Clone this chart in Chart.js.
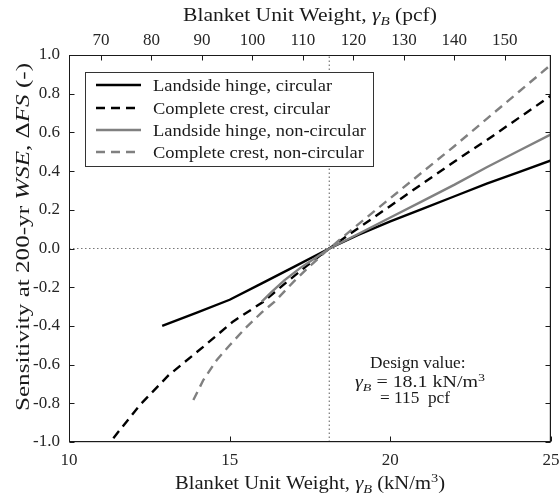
<!DOCTYPE html>
<html>
<head>
<meta charset="utf-8">
<script src="https://cdn.jsdelivr.net/npm/chart.js@4"></script>
<style>
  html, body { margin: 0; padding: 0; background: #fff; overflow: hidden; }
  #wrap { width: 560px; height: 498px; }
</style>
</head>
<body>
<div id="wrap"><canvas id="chart" width="560" height="498"></canvas></div>
<script>
// x = blanket unit weight (kN/m3), y = sensitivity dFS
const lhCircX = [12.9, 14, 15, 16, 17, 18.1, 19, 20, 21, 22, 23, 24, 25];
const lhCircY = [-0.40, -0.33, -0.265, -0.18, -0.095, 0, 0.07, 0.14, 0.205, 0.27, 0.335, 0.395, 0.455];

const ccCircX = [11.38, 12.2, 13.1, 14.2, 15.1, 16.05, 16.8, 17.4, 18.1, 19, 20, 21, 22, 23, 24, 25];
const ccCircY = [-0.98, -0.81, -0.655, -0.505, -0.378, -0.275, -0.17, -0.09, 0, 0.105, 0.22, 0.335, 0.45, 0.56, 0.675, 0.79];

const lhNonX = [16.0, 16.3, 16.7, 17.2, 17.7, 18.1, 19, 20, 21, 22, 23, 24, 25];
const lhNonY = [-0.275, -0.225, -0.165, -0.1, -0.045, 0, 0.075, 0.16, 0.245, 0.33, 0.42, 0.505, 0.59];

const ccNonX = [13.87, 14.18, 14.6, 15.0, 15.5, 16.0, 16.4, 17.0, 17.5, 18.1, 19, 20, 21, 22, 23, 24, 25];
const ccNonY = [-0.783, -0.68, -0.576, -0.5, -0.41, -0.33, -0.275, -0.17, -0.09, 0, 0.125, 0.26, 0.395, 0.53, 0.67, 0.81, 0.95];

const seriesNames = ['Landside hinge, circular', 'Complete crest, circular', 'Landside hinge, non-circular', 'Complete crest, non-circular'];

const xTicks = [10, 15, 20, 25];
const yTicks = [-1, -0.8, -0.6, -0.4, -0.2, 0, 0.2, 0.4, 0.6, 0.8, 1];
const pcfTicks = [70, 80, 90, 100, 110, 120, 130, 140, 150];
const PCF_PER_KN = 6.3658;   // 1 kN/m3 = 6.3658 pcf

const designX = 18.1;   // design value, kN/m3
const zeroY = 0;

const SERIF = "'Liberation Serif', 'Times New Roman', serif";
const BLACK = '#000000';
const GRAY = '#808080';

function pts(xs, ys) { return xs.map((x, i) => ({ x: x, y: ys[i] })); }

// fixed axis sizes, and no extra label padding pushed into the layout
function fixSize(w, h) {
    return s => {
        if (w != null) s.width = w;
        if (h != null) s.height = h;
        s.paddingLeft = 0; s.paddingRight = 0; s.paddingTop = 0; s.paddingBottom = 0;
    };
}

// draw text made of pieces (normal / italic / sub / sup), stretched a bit to look like CM
function richWidth(ctx, segs, size) {
    let w = 0;
    segs.forEach(s => {
        const sz = (s.sub || s.sup) ? size * 0.7 : size;
        ctx.font = (s.it ? 'italic ' : '') + sz + 'px ' + SERIF;
        w += ctx.measureText(s.t).width;
    });
    return w;
}
function drawRich(ctx, segs, x, y, size, opts) {
    opts = opts || {};
    const w = richWidth(ctx, segs, size);
    const k = opts.width ? opts.width / w : (opts.k || 1);
    ctx.save();
    ctx.translate(x, y);
    if (opts.rot) ctx.rotate(opts.rot);
    ctx.scale(k, 1);
    let cx = opts.align === 'left' ? 0 : -w / 2;
    ctx.fillStyle = opts.color || '#1a1a1a';
    ctx.textBaseline = 'alphabetic';
    segs.forEach(s => {
        const sz = (s.sub || s.sup) ? size * 0.7 : size;
        ctx.font = (s.it ? 'italic ' : '') + sz + 'px ' + SERIF;
        let dy = 0;
        if (s.sub) dy = size * 0.22;
        if (s.sup) dy = -size * 0.38;
        ctx.fillText(s.t, cx, dy);
        cx += ctx.measureText(s.t).width;
    });
    ctx.restore();
}

const decorPlugin = {
    id: 'decor',
    afterDraw(chart) {
        const ctx = chart.ctx;
        const a = chart.chartArea;
        const sx = chart.scales.x, sy = chart.scales.y, st = chart.scales.x2;
        const TL = 5;
        const L = Math.round(a.left) + 0.5, R = Math.round(a.right) - 0.5;
        const T = Math.round(a.top) + 0.5, B = Math.round(a.bottom) - 0.5;

        // frame (filled 1px strips, crisp) + inward tick marks on all four sides
        ctx.save();
        ctx.fillStyle = '#1a1a1a';
        ctx.fillRect(L - 0.5, T - 0.5, R - L + 1, 1);
        ctx.fillRect(L - 0.5, B - 0.5, R - L + 1, 1.2);
        ctx.fillRect(L - 0.5, T - 0.5, 1, B - T + 1);
        ctx.fillRect(R - 0.7, T - 0.5, 1.2, B - T + 1);
        ctx.strokeStyle = '#1a1a1a';
        ctx.lineWidth = 1;
        ctx.beginPath();
        yTicks.forEach(v => {
            const p = Math.round(sy.getPixelForValue(v)) + 0.5;
            ctx.moveTo(L, p); ctx.lineTo(L + TL, p);
            ctx.moveTo(R, p); ctx.lineTo(R - TL, p);
        });
        xTicks.forEach(v => {
            const p = Math.round(sx.getPixelForValue(v)) + 0.5;
            ctx.moveTo(p, B); ctx.lineTo(p, B - TL);
        });
        pcfTicks.forEach(v => {
            const p = Math.round(st.getPixelForValue(v)) + 0.5;
            ctx.moveTo(p, T); ctx.lineTo(p, T + TL);
        });
        ctx.stroke();
        ctx.restore();

        // legend box
        const lx = 85, ly = 72, lw = 288, lh = 94;
        ctx.save();
        ctx.fillStyle = '#fff';
        ctx.fillRect(lx, ly, lw, lh);
        ctx.strokeStyle = '#333';
        ctx.lineWidth = 1;
        ctx.strokeRect(lx + 0.5, ly + 0.5, lw, lh);
        const rows = [85, 108, 130, 152];
        const styles = [[BLACK, []], [BLACK, [9, 6]], [GRAY, []], [GRAY, [9, 6]]];
        ctx.font = '17px ' + SERIF;
        const kLeg = 213 / ctx.measureText(seriesNames[2]).width;
        rows.forEach((ry, i) => {
            ctx.strokeStyle = styles[i][0];
            ctx.setLineDash(styles[i][1]);
            ctx.lineWidth = 2.5;
            ctx.beginPath();
            ctx.moveTo(96, ry); ctx.lineTo(141, ry);
            ctx.stroke();
            ctx.setLineDash([]);
            drawRich(ctx, [{ t: seriesNames[i] }], 153, ry + 5.5, 17, { align: 'left', k: kLeg });
        });
        ctx.restore();

        // axis titles
        const midX = (a.left + a.right) / 2;
        drawRich(ctx, [{ t: 'Blanket Unit Weight, ' }, { t: 'γ', it: true }, { t: 'B', it: true, sub: true }, { t: ' (pcf)' }],
            midX, 21, 18, { width: 254 });
        drawRich(ctx, [{ t: 'Blanket Unit Weight, ' }, { t: 'γ', it: true }, { t: 'B', it: true, sub: true }, { t: ' (kN/m' }, { t: '3', sup: true }, { t: ')' }],
            midX, 489, 18, { width: 270 });
        drawRich(ctx, [{ t: 'Sensitivity at 200-yr ' }, { t: 'WSE', it: true }, { t: ', Δ' }, { t: 'FS', it: true }, { t: ' (-)' }],
            29, 237, 18, { width: 348, rot: -Math.PI / 2 });

        // design value note
        drawRich(ctx, [{ t: 'Design value:' }], 370, 368, 16, { align: 'left', k: 1.08 });
        drawRich(ctx, [{ t: 'γ', it: true }, { t: 'B', it: true, sub: true }, { t: ' = 18.1 kN/m' }, { t: '3', sup: true }],
            355, 387, 16, { align: 'left', width: 130 });
        drawRich(ctx, [{ t: '= 115  pcf' }], 380, 403, 16, { align: 'left', k: 1.08 });
    }
};

const tickFont = { family: SERIF, size: 17 };
const tickColor = '#262626';

new Chart(document.getElementById('chart'), {
    type: 'scatter',
    data: {
        datasets: [
            { label: 'zero', data: [{ x: 10, y: zeroY }, { x: 25, y: zeroY }], borderColor: '#777', borderWidth: 1.2, borderDash: [1.5, 2.5] },
            { label: 'design', data: [{ x: designX, y: -1 }, { x: designX, y: 1 }], borderColor: '#777', borderWidth: 1.2, borderDash: [1.5, 2.5] },
            { label: seriesNames[3], data: pts(ccNonX, ccNonY), borderColor: GRAY, borderDash: [9, 6] },
            { label: seriesNames[2], data: pts(lhNonX, lhNonY), borderColor: GRAY },
            { label: seriesNames[1], data: pts(ccCircX, ccCircY), borderColor: BLACK, borderDash: [9, 6] },
            { label: seriesNames[0], data: pts(lhCircX, lhCircY), borderColor: BLACK }
        ].map(d => Object.assign({ showLine: true, pointRadius: 0, borderWidth: 2.4, tension: 0, fill: false }, d))
    },
    options: {
        responsive: false,
        animation: false,
        events: [],
        layout: { padding: 0, autoPadding: false },
        plugins: { legend: { display: false }, tooltip: { enabled: false } },
        scales: {
            x: {
                type: 'linear', position: 'bottom', min: 10, max: 25,
                afterBuildTicks: s => { s.ticks = xTicks.map(v => ({ value: v })); },
                afterFit: fixSize(null, 56),
                grid: { display: false, drawTicks: false },
                border: { display: false },
                ticks: { font: tickFont, color: tickColor, padding: 8, autoSkip: false, maxRotation: 0 }
            },
            x2: {
                type: 'linear', position: 'top', min: 10 * PCF_PER_KN, max: 25 * PCF_PER_KN,
                afterBuildTicks: s => { s.ticks = pcfTicks.map(v => ({ value: v })); },
                afterFit: fixSize(null, 55),
                grid: { display: false, drawTicks: false },
                border: { display: false },
                ticks: { font: tickFont, color: tickColor, padding: 4, autoSkip: false, maxRotation: 0 }
            },
            y: {
                type: 'linear', position: 'left', min: -1, max: 1,
                afterBuildTicks: s => { s.ticks = yTicks.map(v => ({ value: v })); },
                afterFit: fixSize(69, null),
                grid: { display: false, drawTicks: false },
                border: { display: false },
                ticks: { font: tickFont, color: tickColor, padding: 9, callback: v => v.toFixed(1) }
            },
            y2: {
                type: 'linear', position: 'right', min: -1, max: 1,
                afterFit: fixSize(9, null),
                grid: { display: false, drawTicks: false },
                border: { display: false },
                ticks: { display: false }
            }
        }
    },
    plugins: [decorPlugin]
});
</script>
</body>
</html>
